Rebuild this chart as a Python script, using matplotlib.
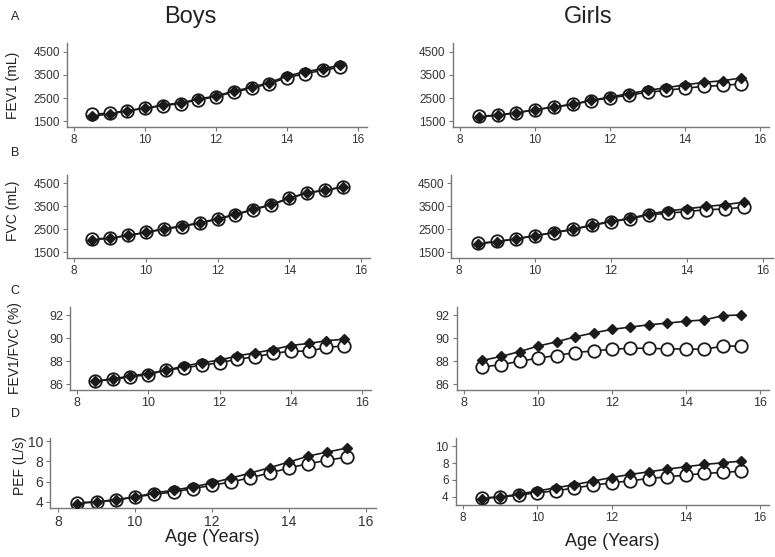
import numpy as np
import matplotlib.pyplot as plt

plt.rcParams['font.family'] = ['Liberation Sans', 'DejaVu Sans']

age = [8.5, 9, 9.5, 10, 10.5, 11, 11.5, 12, 12.5, 13, 13.5, 14, 14.5, 15, 15.5]

# filled diamonds / open circles
boys_fev1_d = [1720, 1800, 1950, 2060, 2190, 2290, 2450, 2590, 2800, 2960, 3170, 3450, 3640, 3770, 3920]
boys_fev1_c = [1790, 1840, 1950, 2050, 2170, 2260, 2420, 2560, 2760, 2920, 3130, 3380, 3560, 3700, 3840]
girls_fev1_d = [1680, 1750, 1850, 1990, 2110, 2230, 2400, 2540, 2690, 2830, 2950, 3070, 3180, 3250, 3370]
girls_fev1_c = [1700, 1760, 1860, 1990, 2100, 2220, 2380, 2510, 2620, 2750, 2830, 2930, 3000, 3050, 3110]

boys_fvc_d = [2030, 2100, 2220, 2360, 2510, 2630, 2770, 2950, 3140, 3360, 3570, 3850, 4080, 4190, 4320]
boys_fvc_c = [2060, 2110, 2220, 2350, 2490, 2610, 2750, 2930, 3120, 3340, 3550, 3830, 4070, 4190, 4340]
girls_fvc_d = [1850, 1950, 2070, 2210, 2350, 2490, 2680, 2830, 2970, 3150, 3290, 3380, 3480, 3560, 3670]
girls_fvc_c = [1880, 1960, 2070, 2210, 2340, 2480, 2660, 2810, 2950, 3110, 3190, 3260, 3340, 3370, 3450]

boys_ratio_d = [86.26, 86.46, 86.72, 86.93, 87.22, 87.57, 87.86, 88.09, 88.46, 88.72, 89.01, 89.36, 89.54, 89.77, 89.91]
boys_ratio_c = [86.26, 86.43, 86.64, 86.84, 87.22, 87.42, 87.65, 87.86, 88.17, 88.38, 88.67, 88.87, 88.87, 89.19, 89.33]
girls_ratio_d = [88.07, 88.41, 88.83, 89.31, 89.68, 90.11, 90.45, 90.76, 90.96, 91.16, 91.30, 91.47, 91.58, 91.95, 92.01]
girls_ratio_c = [87.50, 87.70, 87.98, 88.27, 88.49, 88.75, 88.89, 89.03, 89.12, 89.12, 89.06, 89.06, 89.03, 89.31, 89.31]

boys_pef_d = [3.84, 4.00, 4.23, 4.49, 4.89, 5.15, 5.48, 5.87, 6.36, 6.85, 7.38, 7.93, 8.52, 8.92, 9.31]
boys_pef_c = [3.93, 4.00, 4.16, 4.49, 4.75, 4.98, 5.31, 5.64, 5.97, 6.39, 6.85, 7.34, 7.77, 8.10, 8.43]
girls_pef_d = [3.80, 4.00, 4.32, 4.71, 5.07, 5.46, 5.86, 6.29, 6.65, 6.96, 7.28, 7.56, 7.83, 8.03, 8.23]
girls_pef_c = [3.88, 4.00, 4.20, 4.51, 4.71, 5.07, 5.38, 5.66, 5.90, 6.17, 6.37, 6.57, 6.77, 6.89, 7.04]

vol_ticks = [1500, 2500, 3500, 4500]
ratio_ticks = [86, 88, 90, 92]
pef_ticks = [4, 6, 8, 10]
age_ticks = [8, 10, 12, 14, 16]

W, H = 775, 557
fig = plt.figure(figsize=(W / 100, H / 100), dpi=100)

XMIN, XMAX = 7.8, 16.25

# (diamonds, circles, yticks, ylim, x8 px, x16 px, top px, bottom px, ticksize)
panels = [
    (boys_fev1_d, boys_fev1_c, vol_ticks, (1240, 4890), 74, 358, 43, 127, 8.5),
    (girls_fev1_d, girls_fev1_c, vol_ticks, (1240, 4890), 460, 760, 43, 127, 8.5),
    (boys_fvc_d, boys_fvc_c, vol_ticks, (1240, 4850), 74, 361, 175, 258, 8.5),
    (girls_fvc_d, girls_fvc_c, vol_ticks, (1240, 4850), 459, 763, 175, 258, 8.5),
    (boys_ratio_d, boys_ratio_c, ratio_ticks, (85.5, 92.7), 77, 362, 307, 390, 9),
    (girls_ratio_d, girls_ratio_c, ratio_ticks, (85.5, 92.7), 464, 760, 307, 390, 9),
    (boys_pef_d, boys_pef_c, pef_ticks, (3.4, 10.3), 58, 366, 438, 508, 10),
    (girls_pef_d, girls_pef_c, pef_ticks, (3.05, 10.95), 463, 760, 438, 505, 8.5),
]

for d, c, yt, yl, x8, x16, top, bot, fs in panels:
    s = (x16 - x8) / 8.0
    left = x8 - (8 - XMIN) * s
    width = (XMAX - XMIN) * s
    ax = fig.add_axes([left / W, 1 - bot / H, width / W, (bot - top) / H])
    ax.plot(age, c, color='#1a1a1a', lw=1.2, marker='o', ms=9, mfc='white',
            mec='#1a1a1a', mew=1.3, zorder=2)
    ax.plot(age, d, color='#1a1a1a', lw=1.2, marker='D', ms=5, mfc='#1a1a1a',
            mec='#1a1a1a', zorder=3)
    ax.set_xlim(XMIN, XMAX)
    ax.set_ylim(*yl)
    ax.set_xticks(age_ticks)
    ax.set_yticks(yt)
    for sp in ['top', 'right']:
        ax.spines[sp].set_visible(False)
    for sp in ['left', 'bottom']:
        ax.spines[sp].set_color('#777777')
        ax.spines[sp].set_linewidth(1.0)
    ax.tick_params(length=3, width=0.8, color='#777777', labelcolor='#333333',
                   labelsize=fs, pad=2)

fig.text(190 / W, 1 - 17 / H, 'Boys', fontsize=17, color='#222222', ha='center', va='center')
fig.text(588 / W, 1 - 17 / H, 'Girls', fontsize=17, color='#222222', ha='center', va='center')

for lab, y in [('A', 17), ('B', 153), ('C', 291), ('D', 414)]:
    fig.text(15 / W, 1 - y / H, lab, fontsize=9, color='#222222', ha='center', va='center')

ylabels = [('FEV1 (mL)', 13, 85), ('FVC (mL)', 13, 211), ('FEV1/FVC (%)', 15, 348), ('PEF (L/s)', 20, 466)]
for lab, x, y in ylabels:
    fig.text(x / W, 1 - y / H, lab, fontsize=10, color='#222222', rotation=90,
             ha='center', va='center')

fig.text(212 / W, 1 - 538 / H, 'Age (Years)', fontsize=13, color='#222222', ha='center', va='center')
fig.text(612 / W, 1 - 542 / H, 'Age (Years)', fontsize=13, color='#222222', ha='center', va='center')

fig.savefig('out.png', dpi=100)
